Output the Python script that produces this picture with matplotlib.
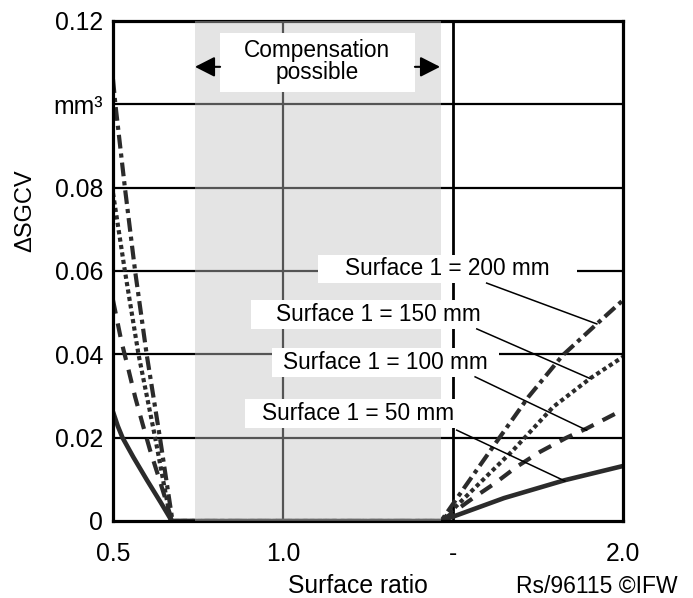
import matplotlib
matplotlib.use("Agg")
import matplotlib.pyplot as plt
from matplotlib.patches import Rectangle

plt.rcParams['font.family'] = ['Liberation Sans', 'DejaVu Sans']

# ---- data ----
x_200 = [0.5, 0.507, 0.535, 0.565, 0.599, 0.638, 0.675, 1.465, 1.535, 1.628, 1.722, 1.823, 1.923, 2.0]
y_200 = [0.106, 0.100, 0.080, 0.060, 0.040, 0.020, 0.0, 0.0, 0.0082, 0.019, 0.0298, 0.0398, 0.0473, 0.053]

x_150 = [0.5, 0.535, 0.575, 0.624, 0.670, 1.465, 1.677, 1.795, 1.903, 2.0]
y_150 = [0.0787, 0.060, 0.040, 0.020, 0.0, 0.0, 0.017, 0.0274, 0.0342, 0.0394]

x_100 = [0.5, 0.510, 0.525, 0.545, 0.565, 0.587, 0.609, 0.634, 0.658, 0.673,
         1.465, 1.559, 1.624, 1.687, 1.756, 1.834, 1.893, 1.981, 2.0]
y_100 = [0.053, 0.049, 0.043, 0.0365, 0.0298, 0.0233, 0.017, 0.0106, 0.0043, 0.0,
         0.0, 0.0055, 0.0091, 0.013, 0.0166, 0.020, 0.0222, 0.0259, 0.0262]

x_50 = [0.5, 0.514, 0.528, 0.56, 0.6, 0.64, 0.673, 1.465, 1.65, 1.829, 2.0]
y_50 = [0.0262, 0.0228, 0.020, 0.0153, 0.0098, 0.0045, 0.0, 0.0, 0.0055, 0.0098, 0.0132]

series_labels = ["Surface 1 = 200 mm", "Surface 1 = 150 mm", "Surface 1 = 100 mm", "Surface 1 = 50 mm"]

x_ticks = [0.5, 1.0, 1.5, 2.0]
x_ticklabels = ["0.5", "1.0", "-", "2.0"]
y_ticks = [0, 0.02, 0.04, 0.06, 0.08, 0.10, 0.12]
y_ticklabels = ["0", "0.02", "0.04", "0.06", "0.08", "mm³", "0.12"]

comp_range = (0.741, 1.464)

# ---- figure ----
W, H = 693, 598
fig = plt.figure(figsize=(W / 100, H / 100), dpi=100)
ax = fig.add_axes([113 / W, 1 - 521 / H, (623 - 113) / W, (521 - 21) / H])
ax.set_xlim(0.5, 2.0)
ax.set_ylim(0, 0.12)

FS = 16.3
FS_TICK = 17.8
ink = '#2b2b2b'

# grid
for yv in y_ticks[1:-1]:
    ax.axhline(yv, color='black', lw=1.6, zorder=1)
ax.axvline(1.0, color='black', lw=1.6, zorder=1)
ax.axvline(1.5, color='black', lw=2.0, zorder=1)

# curves
lw = 3.0
ax.plot(x_200, y_200, color=ink, lw=lw, ls=(0, (3.3, 1.2, 1.0, 1.2)), zorder=2)
ax.plot(x_150, y_150, color=ink, lw=lw, ls=(0, (1.0, 0.8)), zorder=2)
ax.plot(x_100, y_100, color=ink, lw=lw, ls=(0, (3.3, 2.4)), zorder=2)
ax.plot(x_50, y_50, color=ink, lw=3.3, ls='-', zorder=2, solid_capstyle='butt')

for s in ax.spines.values():
    s.set_linewidth(2.3)
    s.set_color('black')

# gray "compensation possible" region overlay
ax.axvspan(comp_range[0], comp_range[1], color=(195 / 255,) * 3, alpha=0.435, lw=0, zorder=3)

# label boxes (x0, x1, y0, y1) and text centres
boxes = [
    (1.103, 1.865, 0.0571, 0.0638),
    (0.906, 1.632, 0.0461, 0.0530),
    (0.968, 1.635, 0.03456, 0.04152),
    (0.888, 1.506, 0.02232, 0.02928),
]
text_pos = [(1.482, 0.0605), (1.281, 0.04956), (1.300, 0.0380), (1.222, 0.0258)]
leaders = [
    ((1.599, 0.0571), (1.923, 0.0473)),
    ((1.570, 0.0461), (1.903, 0.0342)),
    ((1.565, 0.0346), (1.893, 0.0218)),
    ((1.511, 0.0218), (1.829, 0.0096)),
]
for (x0, x1, y0, y1), (tx, ty), lab, (p0, p1) in zip(boxes, text_pos, series_labels, leaders):
    ax.add_patch(Rectangle((x0, y0), x1 - x0, y1 - y0, facecolor='white', edgecolor='none', zorder=4))
    ax.text(tx, ty, lab, ha='center', va='center', fontsize=FS, zorder=5)
    ax.plot([p0[0], p1[0]], [p0[1], p1[1]], color='black', lw=1.1, zorder=4.5)

# compensation box + arrows
ax.add_patch(Rectangle((0.815, 0.103), 1.388 - 0.815, 0.1171 - 0.103, facecolor='white',
                       edgecolor='none', zorder=4))
ax.text(1.101, 0.1103, "Compensation\npossible", ha='center', va='center', fontsize=FS,
        linespacing=0.95, zorder=5)
arrow_kw = dict(arrowstyle='-|>,head_length=0.55,head_width=0.28', color='black', lw=1.5,
                shrinkA=0, shrinkB=0, mutation_scale=22)
ax.annotate("", xy=(0.741, 0.109), xytext=(0.815, 0.109), arrowprops=arrow_kw, zorder=5)
ax.annotate("", xy=(1.462, 0.109), xytext=(1.388, 0.109), arrowprops=arrow_kw, zorder=5)

# ticks
ax.set_xticks(x_ticks)
ax.set_xticklabels(x_ticklabels, fontsize=FS_TICK)
ax.set_yticks(y_ticks)
ax.set_yticklabels(y_ticklabels, fontsize=FS_TICK)
ax.tick_params(axis='x', length=0, pad=15)
ax.tick_params(axis='y', length=0, pad=7)

# axis labels
fig.text(25 / W, 1 - 211 / H, "ΔSGCV", rotation=90, ha='center', va='center', fontsize=17)
fig.text(358 / W, 1 - 593 / H, "Surface ratio", ha='center', va='baseline', fontsize=17.8)
fig.text(678 / W, 1 - 593 / H, "Rs/96115 ©IFW", ha='right', va='baseline', fontsize=16.5)

fig.savefig("out.png", dpi=100)
